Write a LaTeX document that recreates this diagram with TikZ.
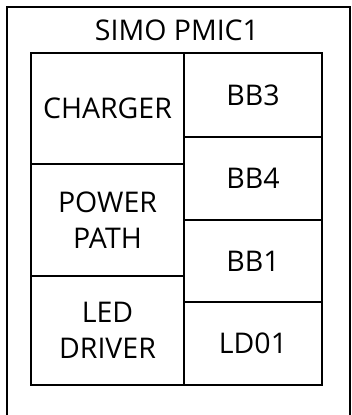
\documentclass[tikz,border=0pt]{standalone}
\usepackage{fontspec}
\setmainfont{Open Sans}
\begin{document}
\begin{tikzpicture}[x=1pt,y=-1pt,
  blk/.style={draw=black,line width=2pt,inner sep=0pt,align=center,
    font=\fontsize{28.5}{36}\selectfont},
  lbl/.style={inner sep=0pt,font=\fontsize{28.5}{36}\selectfont}]
\useasboundingbox (0,0) rectangle (351,415);
\draw[line width=2pt] (7,430) -- (7,7) coordinate (tl) -- (350,7) coordinate (tr) -- (350,430);
\node[lbl] (title) at (177,30) {SIMO PMIC1};
\node[blk,minimum width=153pt,minimum height=111pt] (charger) at (107.5,108.5) {CHARGER};
\node[blk,minimum width=153pt,minimum height=112pt] (power) at (107.5,220) {POWER\\PATH};
\node[blk,minimum width=153pt,minimum height=109pt] (led) at (107.5,330.5) {LED\\DRIVER};
\node[blk,minimum width=138pt,minimum height=84pt] (bb3) at (253,95) {BB3};
\node[blk,minimum width=138pt,minimum height=83pt] (bb4) at (253,178.5) {BB4};
\node[blk,minimum width=138pt,minimum height=82pt] (bb1) at (253,261) {BB1};
\node[blk,minimum width=138pt,minimum height=83pt] (ld01) at (253,343.5) {LD01};
\end{tikzpicture}
\end{document}
